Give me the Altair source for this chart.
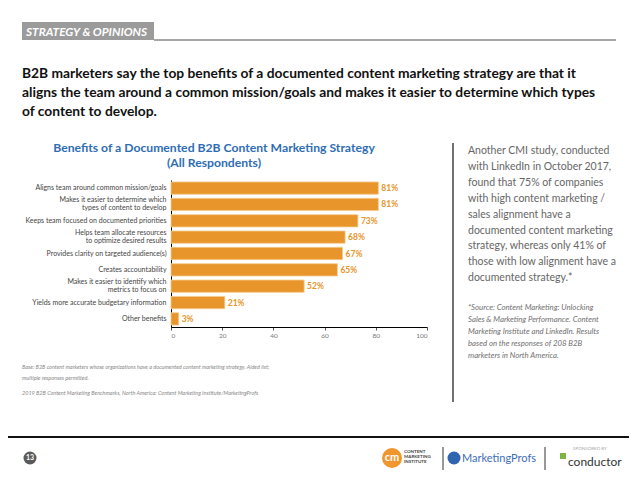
import altair as alt
import pandas as pd

# ---- data ----
categories = [
    "Aligns team around common mission/goals",
    "Makes it easier to determine which|types of content to develop",
    "Keeps team focused on documented priorities",
    "Helps team allocate resources|to optimize desired results",
    "Provides clarity on targeted audience(s)",
    "Creates accountability",
    "Makes it easier to identify which|metrics to focus on",
    "Yields more accurate budgetary information",
    "Other benefits",
]
values = [81, 81, 73, 68, 67, 65, 52, 21, 3]
x_ticks = [0, 20, 40, 60, 80, 100]

section_label = "STRATEGY & OPINIONS"
headline = [
    "B2B marketers say the top benefits of a documented content marketing strategy are that it",
    "aligns the team around a common mission/goals and makes it easier to determine which types",
    "of content to develop.",
]
chart_title = ["Benefits of a Documented B2B Content Marketing Strategy", "(All Respondents)"]
side_text = [
    "Another CMI study, conducted",
    "with LinkedIn in October 2017,",
    "found that 75% of companies",
    "with high content marketing /",
    "sales alignment have a",
    "documented content marketing",
    "strategy, whereas only 41% of",
    "those with low alignment have a",
    "documented strategy.*",
]
side_source = [
    "*Source: Content Marketing: Unlocking",
    "Sales & Marketing Performance. Content",
    "Marketing Institute and LinkedIn. Results",
    "based on the responses of 208 B2B",
    "marketers in North America.",
]
base_note = [
    "Base: B2B content marketers whose organizations have a documented content marketing strategy. Aided list;",
    "multiple responses permitted.",
]
source_note = "2019 B2B Content Marketing Benchmarks, North America: Content Marketing Institute/MarketingProfs"
page_number = "13"
cmi_text = ["CONTENT", "MARKETING", "INSTITUTE"]
mp_text = "MarketingProfs"
sponsor_text = "SPONSORED BY"
conductor_text = "conductor"

df = pd.DataFrame({"category": categories, "value": values})

ORANGE = "#E8952B"
BLUE = "#2E6DB4"
SANS = "Lato"

# plot area origin in page coords = (171, 180)
OX, OY = 171, 180
def px(x):
    return x - OX
def py(y):
    return y - OY

one = alt.Data(values=[{"k": 1}])

base = alt.Chart(df)

bars = base.mark_bar(color=ORANGE, stroke="#F6C98C", strokeWidth=0.8).encode(
    x=alt.X("value:Q", scale=alt.Scale(domain=[0, 100], nice=False),
            axis=alt.Axis(values=x_ticks, title=None, grid=False, domainColor="#000",
                          domainWidth=1, tickColor="#555", tickSize=3, labelFontSize=6.5,
                          labelColor="#777", labelFont=SANS, labelPadding=2)),
    y=alt.Y("category:N", sort=categories,
            scale=alt.Scale(paddingInner=0.25, paddingOuter=0.12),
            axis=alt.Axis(title=None, ticks=False, domainColor="#000", domainWidth=1,
                          labelExpr="split(datum.label, '|')", labelFontSize=7,
                          labelColor="#444", labelFont=SANS, labelLineHeight=8,
                          labelOffset=alt.condition("indexof(datum.value, '|') >= 0",
                                                    alt.value(-4), alt.value(0)),
                          labelPadding=5, labelLimit=200)),
)

val_labels = base.transform_calculate(lbl="datum.value + '%'").mark_text(
    align="left", baseline="middle", dx=3, color=ORANGE, fontWeight="bold",
    fontSize=8.5, font=SANS).encode(
    x="value:Q", y=alt.Y("category:N", sort=categories), text="lbl:N")

def rect(x1, x2, y1, y2, color):
    return alt.Chart(one).mark_rect(color=color).encode(
        x=alt.value(px(x1)), x2=alt.value(px(x2)), y=alt.value(py(y1)), y2=alt.value(py(y2)))

def hline(x1, x2, y, color, w):
    return alt.Chart(one).mark_rule(color=color, strokeWidth=w).encode(
        x=alt.value(px(x1)), x2=alt.value(px(x2)), y=alt.value(py(y)))

def vline(x, y1, y2, color, w):
    return alt.Chart(one).mark_rule(color=color, strokeWidth=w).encode(
        x=alt.value(px(x)), y=alt.value(py(y1)), y2=alt.value(py(y2)))

def txt(text, x, y, size, color, font=SANS, weight="normal", style="normal",
        align="left", baseline="alphabetic", lh=None):
    kw = dict(align=align, baseline=baseline, fontSize=size, color=color, font=font,
              fontWeight=weight, fontStyle=style)
    if lh is not None:
        kw["lineHeight"] = lh
    return alt.Chart(one).mark_text(**kw).encode(
        x=alt.value(px(x)), y=alt.value(py(y)), text=alt.value(text))

def dot(x, y, r, color, shape="circle"):
    return alt.Chart(one).mark_point(filled=True, color=color, opacity=1, shape=shape,
                                     size=(2 * r) ** 2).encode(
        x=alt.value(px(x)), y=alt.value(py(y)))

layers = [
    rect(22, 154, 22, 40, "#9B9B9B"),
    hline(154, 616, 40, "#8A8A8A", 1.5),
    txt(section_label, 26, 35.5, 11.8, "#FFFFFF", weight="bold", style="italic"),
    txt(headline, 22, 78, 13.8, "#111111", weight="bold", lh=19),
    txt(chart_title, 214, 152, 12.2, BLUE, weight="bold", align="center", lh=15),
    bars,
    val_labels,
    vline(453, 143, 402, "#111111", 1.2),
    txt(side_text, 468, 154, 10.5, "#666666", lh=15.9),
    txt(side_source, 468, 310, 7.8, "#707070", style="italic", lh=12),
    txt(base_note, 22, 369, 5.5, "#888888", style="italic", lh=11),
    txt(source_note, 22, 395, 5.5, "#888888", style="italic"),
    hline(8, 630, 437, "#111111", 2),
    dot(30, 458, 6.5, "#5A5A5A"),
    txt(page_number, 30, 458, 7, "#FFFFFF", weight="bold", align="center", baseline="middle"),
    dot(392, 458, 10, "#F0962F"),
    txt("cm", 392, 458, 11, "#FFFFFF", weight="bold", align="center", baseline="middle"),
    txt(cmi_text, 404, 453, 4.5, "#444444", weight="bold", lh=5),
    vline(443, 447, 470, "#333333", 1),
    dot(454, 458, 6.5, "#2F65B0"),
    txt(mp_text, 462, 462, 11, "#3D6DB5"),
    vline(545, 447, 470, "#333333", 1),
    txt(sponsor_text, 590, 450, 4.5, "#AAAAAA", align="center"),
    dot(563, 456, 3, "#7CB342", shape="square"),
    txt(conductor_text, 568, 466, 12, "#333333"),
]

chart = alt.layer(*layers).properties(
    width=256, height=147,
    autosize=alt.AutoSizeParams(type="none"),
    padding={"left": 163, "top": 172, "right": 202, "bottom": 143},
    background="white",
).configure_view(stroke=None)

chart.save("out.html", embed_options={"renderer": "svg", "actions": False})
